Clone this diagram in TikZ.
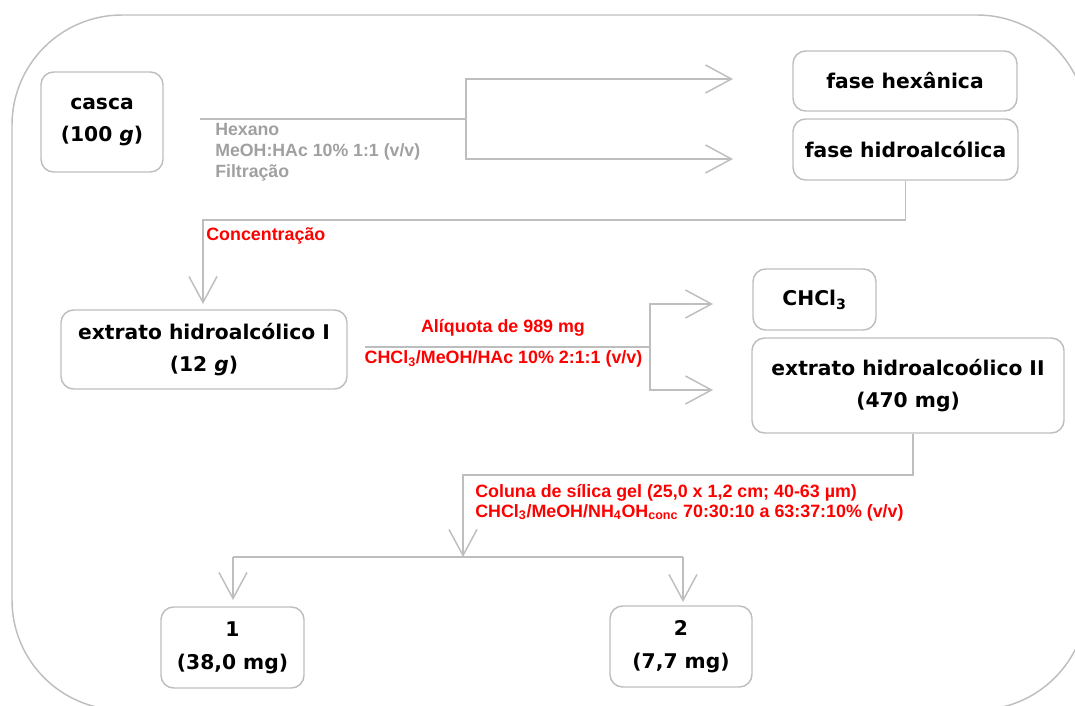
\documentclass[tikz,border=0pt]{standalone}
\usepackage{fontspec}
\setmainfont{DejaVu Sans}
\newfontfamily\arialf{Liberation Sans}
\usetikzlibrary{arrows.meta}
\definecolor{lngray}{RGB}{190,190,190}
\definecolor{txgray}{RGB}{160,160,160}
\definecolor{myred}{RGB}{255,0,0}
\begin{document}
\begin{tikzpicture}[x=0.75pt,y=-0.75pt,
  box/.style={draw=lngray, line width=1.1pt, rounded corners=9.5pt, align=center,
    font=\fontsize{15.2}{24.5}\selectfont\bfseries, inner sep=0pt, text=black},
  sz/.style 2 args={minimum width=#1*0.75pt, minimum height=#2*0.75pt},
  conn/.style={draw=lngray, line width=1.1pt},
  arr/.style={conn, -{Straight Barb[length=19.5pt,width=21pt]}},
  graylbl/.style={text=txgray, font=\arialf\fontsize{13.3}{15.8}\selectfont\bfseries, align=left, inner sep=0pt},
  redlbl/.style={text=myred, font=\arialf\fontsize{13.4}{14.8}\selectfont\bfseries, align=left, inner sep=0pt}]
\useasboundingbox (0,0) rectangle (1075,706);
\begin{scope}
  \clip (0,0) rectangle (1075,706);
  \draw[conn, rounded corners=82.5pt] (12,15) rectangle (1087,710);
\end{scope}

% boxes
\node[box, sz={122}{100}] (casca) at (102,122) {casca\\(100 \textit{g})};
\node[box, sz={224}{60}] (hex) at (905,81) {fase hexânica};
\node[box, sz={225}{61}] (hidro) at (905.5,149.5) {fase hidroalcólica};
\node[box, sz={286}{79}] (ext1) at (204,349.5) {extrato hidroalcólico I\\(12 \textit{g})};
\node[box, sz={123}{61}] (chcl) at (814.5,299.5) {CHCl\textsubscript{3}};
\node[box, sz={312}{95}] (ext2) at (908,385.5) {extrato hidroalcoólico II\\(470 mg)};
\node[box, sz={143}{81}] (c1) at (232.5,647.5) {1\\(38,0 mg)};
\node[box, sz={142}{81}] (c2) at (681,646.5) {2\\(7,7 mg)};

% connector 1
\coordinate (s1) at (200,119);
\coordinate (b1) at (466,119);
\coordinate (a1) at (733,79);
\coordinate (a2) at (733,159);
\draw[conn] (s1) -- (b1);
\draw[arr] (b1) |- (a1);
\draw[arr] (b1) |- (a2);
\node[graylbl, anchor=north west] (lbl1) at (215,123) {Hexano\\MeOH:HAc 10\% 1:1 (v/v)\\Filtração};

% connector 2
\coordinate (k2) at (203,220);
\coordinate (t2) at (203,304);
\draw[arr] (hidro.south) |- (k2) -- (t2);
\node[redlbl, anchor=west] (lbl2) at (206,236) {Concentração};

% connector 3
\coordinate (s3) at (365,347);
\coordinate (b3) at (650,347);
\coordinate (a3) at (713,304);
\coordinate (a4) at (713,390);
\draw[conn] (s3) -- (b3);
\draw[arr] (b3) |- (a3);
\draw[arr] (b3) |- (a4);
\node[redlbl, anchor=center] (lbl3) at (503,328) {Alíquota de 989 mg};
\node[redlbl, anchor=center] (lbl4) at (503.5,359) {CHCl\textsubscript{3}/MeOH/HAc 10\% 2:1:1 (v/v)};

% connector 4
\coordinate (k4) at (463,475);
\coordinate (b4) at (463,557);
\coordinate (l4) at (233,557);
\coordinate (r4) at (683,557);
\coordinate (tl) at (233,600);
\coordinate (tr) at (683,602);
\draw[arr] (ext2.south -| 913,0) |- (k4) -- (b4);
\draw[conn] (l4) -- (r4);
\draw[arr] (l4) -- (tl);
\draw[arr] (r4) -- (tr);
\node[redlbl, anchor=north west] (lbl5) at (475,484) {Coluna de sílica gel (25,0 x 1,2 cm; 40-63 µm)\\CHCl\textsubscript{3}/MeOH/NH\textsubscript{4}OH\textsubscript{conc} 70:30:10 a 63:37:10\% (v/v)};
\end{tikzpicture}
\end{document}
